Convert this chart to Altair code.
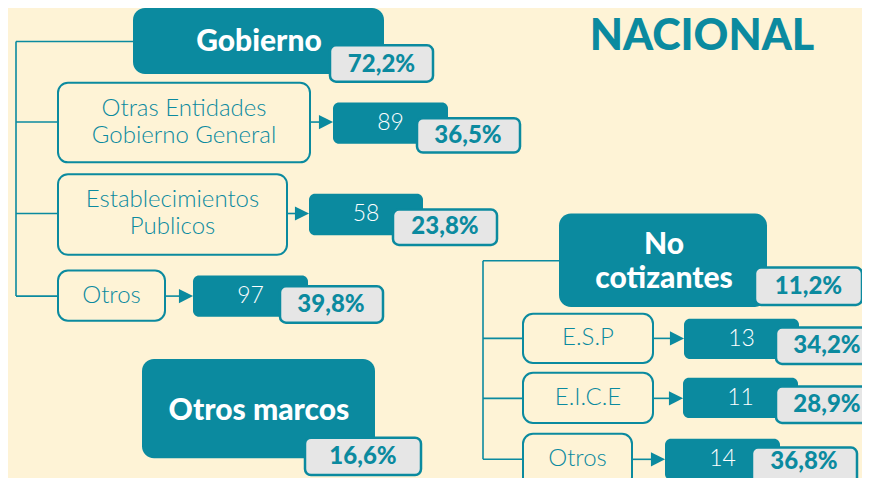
import altair as alt
import pandas as pd

# ---------------- data ----------------
groups = ["Gobierno", "Otros marcos", "No\ncotizantes"]
group_pct = ["72,2%", "16,6%", "11,2%"]

gob_sub = ["Otras Entidades\nGobierno General", "Establecimientos\nPublicos", "Otros"]
gob_count = [89, 58, 97]
gob_pct = ["36,5%", "23,8%", "39,8%"]

nc_sub = ["E.S.P", "E.I.C.E", "Otros"]
nc_count = [13, 11, 14]
nc_pct = ["34,2%", "28,9%", "36,8%"]

title_text = "NACIONAL"

# ---------------- layout (pixel boxes: x, x2, y, y2) ----------------
TEAL = "#0B8A9F"
BG = "#FEF3D6"
GREY = "#E6E6E6"
FONT = "Lato"

big_boxes = [(133, 384, 8, 75), (142, 375, 365, 466), (559, 767, 217, 312)]
big_pct_boxes = [(330, 433, 46, 83), (305, 421, 445, 483), (755, 862, 272, 310)]

sub_boxes = [(58, 310, 84, 165), (58, 287, 177, 259), (58, 165, 275, 326),
             (523, 653, 319, 369), (523, 653, 379, 430), (523, 632, 441, 495)]
count_boxes = [(333, 448, 104, 146), (309, 423, 197, 239), (193, 308, 280, 322),
               (684, 799, 324, 365), (683, 798, 384, 425), (665, 780, 446, 488)]
pct_boxes = [(417, 520, 120, 155), (393, 497, 213, 249), (280, 383, 291, 328),
             (776, 880, 333, 370), (776, 880, 393, 430), (752, 857, 455, 492)]
pct_text_pos = [(468, 138), (445, 231), (331, 310), (827, 352), (827, 412), (804, 470)]

trees = [  # trunk x, header y, header box index, sub indices
    (16, 42, 0, [0, 1, 2]),
    (483, 265, 2, [3, 4, 5]),
]
branch_y = [124, 217, 301, 344, 405, 467]
title_pos = (702, 37)
big_text_pos = [(259, 43), (259, 418), (664, 266)]
BIG_LH = 34
SUB_LH = 27

# ---------------- build tables ----------------
def box_df(boxes):
    return pd.DataFrame(boxes, columns=["x", "x2", "y", "y2"])


def centers(boxes):
    return [((b[0] + b[1]) / 2, (b[2] + b[3]) / 2) for b in boxes]


def first_line_y(center_y, text, lh):
    n = text.count("\n") + 1
    return center_y - (n - 1) * lh / 2


subs = gob_sub + nc_sub
counts = gob_count + nc_count
pcts = gob_pct + nc_pct

rules = []
for trunk, hy, hdr, idxs in trees:
    hb = big_boxes[hdr]
    rules.append((trunk, trunk, hy, branch_y[idxs[-1]]))
    rules.append((trunk, hb[0], hy, hy))
    for i in idxs:
        sb = sub_boxes[i]
        cy = branch_y[i]
        rules.append((trunk, sb[0], cy, cy))
        rules.append((sb[1], count_boxes[i][0] - 12, cy, cy))
rules_df = pd.DataFrame(rules, columns=["x", "x2", "y", "y2"])

tri_df = pd.DataFrame({"x": [count_boxes[i][0] - 7 for i in range(6)],
                       "y": branch_y})

big_text_df = pd.DataFrame({"x": [p[0] for p in big_text_pos],
                            "y": [first_line_y(p[1], t, BIG_LH) for p, t in zip(big_text_pos, groups)],
                            "t": groups})
big_pct_df = pd.DataFrame({"x": [c[0] for c in centers(big_pct_boxes)],
                           "y": [c[1] + 1 for c in centers(big_pct_boxes)], "t": group_pct})
sub_text_df = pd.DataFrame({"x": [c[0] for c in centers(sub_boxes)],
                            "y": [first_line_y(y, t, SUB_LH) for y, t in zip(branch_y, subs)],
                            "t": subs})
count_text_df = pd.DataFrame({"x": [c[0] for c in centers(count_boxes)],
                              "y": [c[1] for c in centers(count_boxes)],
                              "t": [str(v) for v in counts]})
pct_text_df = pd.DataFrame({"x": [p[0] for p in pct_text_pos],
                            "y": [p[1] for p in pct_text_pos], "t": pcts})
title_df = pd.DataFrame({"x": [title_pos[0]], "y": [title_pos[1]], "t": [title_text]})

# ---------------- scales ----------------
xs = alt.Scale(domain=[8, 862], nice=False, zero=False)
ys = alt.Scale(domain=[8, 486], nice=False, zero=False, reverse=True)


def X(f):
    return alt.X(f, type="quantitative", scale=xs, axis=None)


def Y(f):
    return alt.Y(f, type="quantitative", scale=ys, axis=None)


def rect_layer(df, **mk):
    return alt.Chart(df).mark_rect(clip=True, **mk).encode(
        x=X("x"), x2="x2", y=Y("y"), y2="y2")


def text_layer(df, clip=True, **mk):
    return alt.Chart(df).mark_text(align="center", baseline="middle", font=FONT,
                                   lineBreak="\n", clip=clip, **mk).encode(
        x=X("x"), y=Y("y"), text="t:N")


rules_layer = alt.Chart(rules_df).mark_rule(color=TEAL, strokeWidth=1.6).encode(
    x=X("x"), x2="x2", y=Y("y"), y2="y2")
tri_layer = alt.Chart(tri_df).mark_point(
    shape="M-1,-1L1,0L-1,1Z", filled=True, size=200, color=TEAL, opacity=1,
    strokeWidth=0).encode(x=X("x"), y=Y("y"))

chart = alt.layer(
    rules_layer,
    tri_layer,
    rect_layer(box_df(big_boxes), fill=TEAL, cornerRadius=12),
    rect_layer(box_df(big_pct_boxes), fill=GREY, stroke=TEAL, strokeWidth=2.5, cornerRadius=6),
    rect_layer(box_df(sub_boxes), fill=BG, stroke=TEAL, strokeWidth=2, cornerRadius=10),
    rect_layer(box_df(count_boxes), fill=TEAL, cornerRadius=6),
    rect_layer(box_df(pct_boxes), fill=GREY, stroke=TEAL, strokeWidth=2.5, cornerRadius=6),
    text_layer(big_text_df, fontSize=30, fontWeight=900, color="white", lineHeight=BIG_LH),
    text_layer(big_pct_df, fontSize=24, fontWeight=900, color=TEAL),
    text_layer(sub_text_df, fontSize=24, fontWeight=300, color=TEAL, lineHeight=SUB_LH),
    text_layer(count_text_df, fontSize=23, fontWeight=300, color="white"),
    text_layer(pct_text_df, fontSize=24, fontWeight=900, color=TEAL),
    text_layer(title_df, clip=False, fontSize=43, fontWeight=900, color=TEAL),
).properties(
    width=854, height=470, padding=0, autosize=alt.AutoSizeParams(type="none"),
    background=BG,
).configure_view(stroke=None)

chart.save("out.html", embed_options={"renderer": "svg", "actions": False})
